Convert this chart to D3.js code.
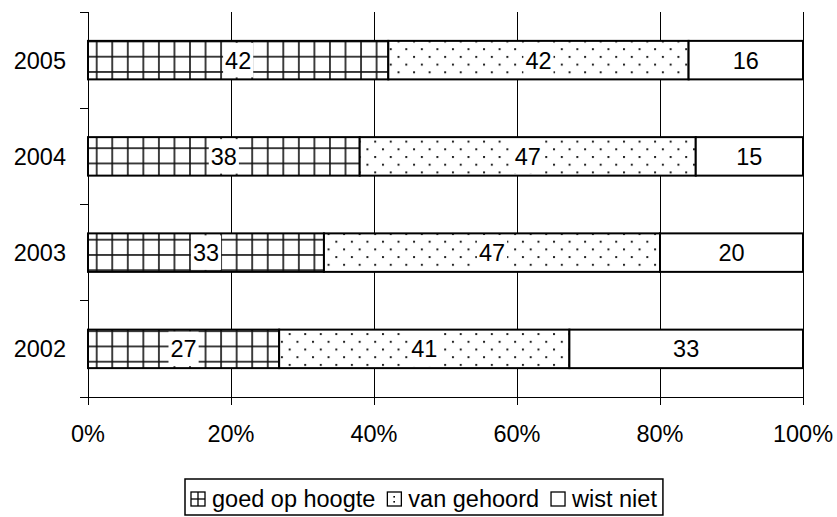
<!DOCTYPE html>
<html>
<head>
<meta charset="utf-8">
<script src="https://cdn.jsdelivr.net/npm/d3@7/dist/d3.min.js"></script>
<style>
  html, body { margin: 0; padding: 0; background: #fff; }
  svg { display: block; }
  text { font-family: "Liberation Sans", Arial, Helvetica, sans-serif; fill: #000; }
</style>
</head>
<body>
<svg id="chart" width="837" height="517"></svg>
<script>
// ---- data ----
const years = ["2005", "2004", "2003", "2002"];
const seriesNames = ["goed op hoogte", "van gehoord", "wist niet"];
const goed = [42, 38, 33, 27];
const gehoord = [42, 47, 47, 41];
const wist = [16, 15, 20, 33];
const xTickLabels = ["0%", "20%", "40%", "60%", "80%", "100%"];
const xTickValues = [0, 0.2, 0.4, 0.6, 0.8, 1.0];

const rows = years.map((y, i) => ({ year: y, goed: goed[i], gehoord: gehoord[i], wist: wist[i] }));
const keys = ["goed", "gehoord", "wist"];

const svg = d3.select("#chart");
const FONT = 23.5;

const x = d3.scaleLinear().domain([0, 1]).range([88, 803]);
const y = d3.scaleBand().domain(years).range([12, 397]).paddingInner(0.6).paddingOuter(0.3);

// ---- patterns ----
const defs = svg.append("defs");
const pw = 15.55, ph = 15.25;
const grid = defs.append("pattern").attr("id", "pGrid").attr("patternUnits", "userSpaceOnUse")
  .attr("width", pw).attr("height", ph).attr("x", 96.7 % pw).attr("y", 56.7 % ph);
grid.append("rect").attr("width", pw).attr("height", ph).attr("fill", "#fff");
grid.append("line").attr("x1", 0).attr("x2", 0).attr("y1", 0).attr("y2", ph).attr("stroke", "#111").attr("stroke-width", 1.6);
grid.append("line").attr("x1", pw).attr("x2", pw).attr("y1", 0).attr("y2", ph).attr("stroke", "#111").attr("stroke-width", 1.6);
grid.append("line").attr("x1", 0).attr("x2", pw).attr("y1", 0).attr("y2", 0).attr("stroke", "#111").attr("stroke-width", 1.6);
grid.append("line").attr("x1", 0).attr("x2", pw).attr("y1", ph).attr("y2", ph).attr("stroke", "#111").attr("stroke-width", 1.6);

const dw = 15.55, dh = 15.4;
const dots = defs.append("pattern").attr("id", "pDots").attr("patternUnits", "userSpaceOnUse")
  .attr("width", dw).attr("height", dh).attr("x", 1).attr("y", 2);
dots.append("rect").attr("width", dw).attr("height", dh).attr("fill", "#fff");
dots.append("rect").attr("x", 0).attr("y", 0).attr("width", 2).attr("height", 2).attr("fill", "#222");
dots.append("rect").attr("x", dw / 2).attr("y", dh / 2).attr("width", 2).attr("height", 2).attr("fill", "#222");

const fills = { goed: "url(#pGrid)", gehoord: "url(#pDots)", wist: "#fff" };

// ---- gridlines ----
svg.append("g").selectAll("line").data(xTickValues.slice(1)).join("line")
  .attr("x1", d => Math.round(x(d)) + 0.5).attr("x2", d => Math.round(x(d)) + 0.5)
  .attr("y1", y.range()[0]).attr("y2", y.range()[1])
  .attr("stroke", "#000").attr("stroke-width", 1);

// ---- bars ----
const stack = d3.stack().keys(keys).offset(d3.stackOffsetExpand);
const stacked = stack(rows);

const barG = svg.append("g");
stacked.forEach(layer => {
  barG.append("g").selectAll("rect").data(layer).join("rect")
    .attr("x", d => x(d[0]))
    .attr("width", d => x(d[1]) - x(d[0]))
    .attr("y", d => y(d.data.year))
    .attr("height", y.bandwidth())
    .attr("fill", fills[layer.key])
    .attr("stroke", "#000").attr("stroke-width", 2);
});

// ---- data labels ----
const labG = svg.append("g");
stacked.forEach(layer => {
  layer.forEach(d => {
    const cx = (x(d[0]) + x(d[1])) / 2;
    const cy = y(d.data.year) + y.bandwidth() / 2;
    const t = labG.append("text").attr("x", cx).attr("y", cy + 8.5)
      .attr("text-anchor", "middle").attr("font-size", FONT)
      .text(d.data[layer.key]);
    if (layer.key !== "wist") {
      const w = t.node().getComputedTextLength();
      labG.insert("rect", "text:last-child")
        .attr("x", cx - w / 2 - 2).attr("width", w + 4)
        .attr("y", y(d.data.year) + 2).attr("height", y.bandwidth() - 4)
        .attr("fill", "#fff");
    }
  });
});

// ---- axes ----
const axG = svg.append("g").attr("stroke", "#000").attr("stroke-width", 1).attr("shape-rendering", "crispEdges");
axG.append("line").attr("x1", x(0)).attr("x2", x(1)).attr("y1", 397).attr("y2", 397);
axG.selectAll(".xt").data(xTickValues).join("line").attr("class", "xt")
  .attr("x1", d => x(d)).attr("x2", d => x(d)).attr("y1", 397).attr("y2", 405);
axG.append("line").attr("x1", x(0)).attr("x2", x(0)).attr("y1", y.range()[0]).attr("y2", 405);
const boundaries = d3.range(years.length + 1).map(i => y.range()[0] + i * (y.range()[1] - y.range()[0]) / years.length);
axG.selectAll(".yt").data(boundaries).join("line").attr("class", "yt")
  .attr("x1", x(0) - 8).attr("x2", x(0)).attr("y1", d => d).attr("y2", d => d);

svg.append("g").selectAll("text").data(xTickValues).join("text")
  .attr("x", d => x(d)).attr("y", 442).attr("text-anchor", "middle")
  .attr("font-size", FONT).text((d, i) => xTickLabels[i]);

svg.append("g").selectAll("text").data(years).join("text")
  .attr("x", 66).attr("y", d => y(d) + y.bandwidth() / 2 + 8.5).attr("text-anchor", "end")
  .attr("font-size", FONT).text(d => d);

// ---- legend ----
const legG = svg.append("g");
const legBox = legG.append("rect").attr("fill", "#fff").attr("stroke", "#000").attr("stroke-width", 1.5);
const legX = 185;
let cxL = legX + 6;
seriesNames.forEach((name, i) => {
  const ig = legG.append("g");
  const iconX = cxL, iconY = 492;
  ig.append("rect").attr("x", iconX).attr("y", iconY).attr("width", 14).attr("height", 14)
    .attr("fill", "#fff").attr("stroke", "#000").attr("stroke-width", 1.3);
  if (i === 0) {
    ig.append("line").attr("x1", iconX + 7).attr("x2", iconX + 7).attr("y1", iconY).attr("y2", iconY + 14).attr("stroke", "#000").attr("stroke-width", 1.3);
    ig.append("line").attr("x1", iconX).attr("x2", iconX + 14).attr("y1", iconY + 7).attr("y2", iconY + 7).attr("stroke", "#000").attr("stroke-width", 1.3);
  } else if (i === 1) {
    ig.append("rect").attr("x", iconX + 6).attr("y", iconY + 4).attr("width", 1.6).attr("height", 1.6).attr("fill", "#000");
    ig.append("rect").attr("x", iconX + 6).attr("y", iconY + 9).attr("width", 1.6).attr("height", 1.6).attr("fill", "#000");
  }
  const t = ig.append("text").attr("x", iconX + 21).attr("y", 507).attr("font-size", FONT).text(name);
  const w = t.node().getComputedTextLength();
  cxL = iconX + 21 + w + 12;
});
legBox.attr("x", legX).attr("y", 479).attr("width", cxL - legX - 6).attr("height", 36);
</script>
</body>
</html>
